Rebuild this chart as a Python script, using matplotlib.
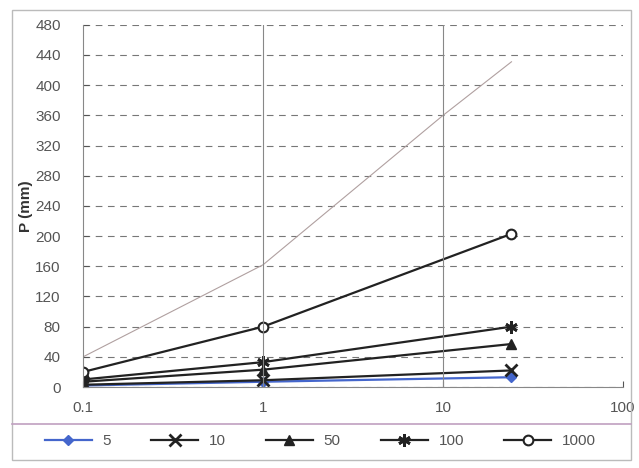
import matplotlib.pyplot as plt
from matplotlib.lines import Line2D
from matplotlib.patches import Rectangle

plt.rcParams['font.family'] = ['Liberation Sans', 'DejaVu Sans']

# data
x = [0.1, 1, 24]
series = ['5', '10', '50', '100', '1000']
p5 = [2, 7, 13]
p10 = [3, 9, 22]
p50 = [7, 23, 57]
p100 = [10, 33, 80]
p1000 = [20, 80, 203]
x_ref = [0.1, 1, 10, 24]
p_ref = [40, 162, 360, 431]

fig = plt.figure(figsize=(6.39, 4.68), dpi=100)
ax = fig.add_axes([0.130, 0.173, 0.845, 0.774])

ax.plot(x_ref, p_ref, color='#b0a0a0', lw=0.8)
ax.plot(x, p5, color='#4466cc', lw=1.6, marker='D', ms=5, label=series[0])
ax.plot(x, p10, color='#222222', lw=1.6, marker='x', ms=8, mew=2, label=series[1])
ax.plot(x, p50, color='#222222', lw=1.6, marker='^', ms=7, label=series[2])
ax.plot(x, p100, color='#222222', lw=1.6, marker=(6, 2, 0), ms=9, mew=2, label=series[3])
ax.plot(x, p1000, color='#222222', lw=1.6, marker='o', ms=7, mfc='white', mew=1.5, label=series[4])

ax.set_xscale('log')
ax.set_xlim(0.1, 100)
ax.set_ylim(0, 480)
ax.set_yticks(range(0, 481, 40))
ax.set_xticks([0.1, 1, 10, 100])
ax.set_xticklabels(['0.1', '1', '10', '100'])
ax.xaxis.set_minor_locator(plt.NullLocator())

ax.grid(axis='y', ls=(0, (6, 5)), color='#777777', lw=0.8)
for v in [1, 10]:
    ax.axvline(v, color='#888888', lw=0.8)

for s in ['top', 'right']:
    ax.spines[s].set_visible(False)
ax.spines['left'].set_color('#888888')
ax.spines['bottom'].set_color('#888888')
ax.tick_params(colors='#555555', labelsize=11, length=4, direction='in')
ax.tick_params(axis='x', pad=10)
ax.tick_params(axis='y', pad=16)
ax.set_ylabel('P (mm)', fontsize=11, fontweight='bold', color='#333333', labelpad=2)

fig.legend(loc='center left', bbox_to_anchor=(0.07, 0.058), ncol=5, frameon=False,
           fontsize=11, handlelength=3.1, handletextpad=0.7, columnspacing=2.6,
           labelcolor='#555555', borderaxespad=0, borderpad=0)

fig.add_artist(Rectangle((0.019, 0.017), 0.968, 0.962, transform=fig.transFigure,
                         fill=False, ec='#bbbbbb', lw=1))
fig.add_artist(Line2D([0.019, 0.987], [0.094, 0.094], transform=fig.transFigure,
                      color='#c0a0c0', lw=1.2))

fig.savefig('out.png', dpi=100)
